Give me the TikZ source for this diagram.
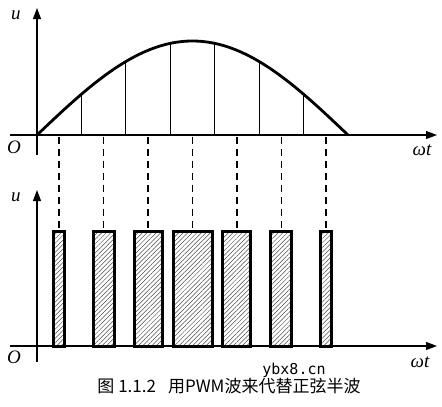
\documentclass[tikz,border=0pt]{standalone}
\usepackage{fontspec}
\setmainfont{Liberation Serif}
\newfontfamily\cjk{Noto Sans CJK SC}
\newfontfamily\wmfont{DejaVu Sans Mono}
\usetikzlibrary{arrows.meta,patterns.meta}
\begin{document}
\begin{tikzpicture}[x=1pt,y=-1pt,
  axis/.style={line width=1.1pt,-{Triangle[length=11pt,width=8pt]}},
  sinecurve/.style={line width=2.8pt},
  ordinate/.style={line width=1pt},
  guide/.style={line width=1.7pt,dash pattern=on 7pt off 5pt},
  pulse/.style={draw,line width=3pt,inner sep=0pt,
    pattern={Lines[angle=45,distance=3.2pt,line width=0.5pt]},pattern color=black!70},
  lbl/.style={font=\itshape\fontsize{19}{19}\selectfont,inner sep=0pt}]
\useasboundingbox (0,0) rectangle (442,407);
\fill[white] (0,0) rectangle (442,407);

% ---------- upper graph ----------
\draw[axis] (10,135) -- (437,135);
\draw[axis] (37,155) -- (37,8);
\node[lbl] (u1) at (16,15) {u};
\node[lbl] (o1) at (14,147) {O};
\node[lbl] (wt1) at (422,150) {ωt};

\draw[sinecurve,line cap=round] plot[domain=0:180,samples=90,smooth]
  ({37+\x*1.72778},{135-94*sin(\x)});
\foreach \k in {1,...,6}{
  \pgfmathsetmacro{\xx}{37+\k*311/7}
  \pgfmathsetmacro{\yy}{135-94*sin(\k*180/7)}
  \draw[ordinate] (\xx,135) -- (\xx,\yy);
}

% ---------- lower graph ----------
\draw[axis] (10,346) -- (437,346);
\draw[axis] (37,362) -- (37,190);
\node[lbl] (u2) at (16,197) {u};
\node[lbl] (o2) at (14,357) {O};
\node[lbl] (wt2) at (420,362) {ωt};

\foreach \w [count=\i] in {11,21,28,39,28,21,11}{
  \pgfmathsetmacro{\cx}{37+(\i-0.5)*311/7}
  \coordinate (s\i) at (\cx,137);
  \node[pulse,minimum width=\w pt,minimum height=115pt] (p\i) at (\cx,288.5) {};
  \draw[guide] (s\i) -- (p\i.north);
}

% ---------- caption ----------
\node[inner sep=0pt,font=\cjk\fontsize{17}{17}\selectfont] (cap) at (229,386)
  {图 1.1.2\hspace{12pt}用PWM波来代替正弦半波};
\node[inner sep=0pt,font=\wmfont\fontsize{15}{15}\selectfont] (wm) at (294,370) {ybx8.cn};
\end{tikzpicture}
\end{document}
